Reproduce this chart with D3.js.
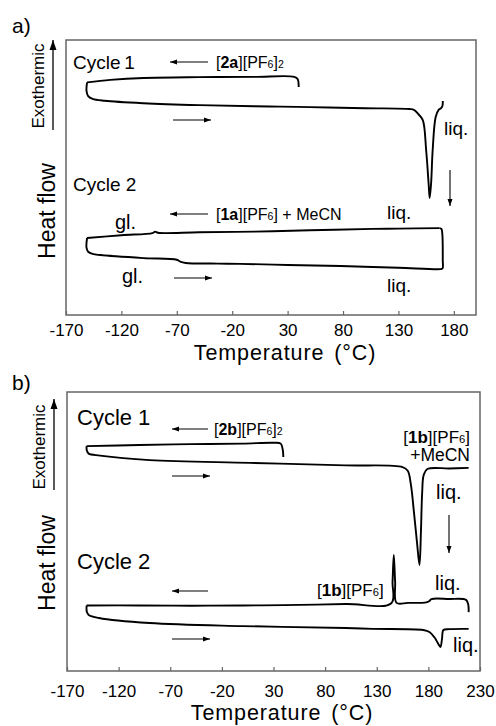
<!DOCTYPE html>
<html>
<head>
<meta charset="utf-8">
<script src="https://cdnjs.cloudflare.com/ajax/libs/d3/7.8.5/d3.min.js"></script>
<style>
    body { margin: 0; background: #fff; }
    svg { font-family: "Liberation Sans", Arial, sans-serif; }
</style>
</head>
<body>
<svg id="chart" width="496" height="726"></svg>
<script>
// temperature ticks (°C)
var ticksA = [-170, -120, -70, -20, 30, 80, 130, 180];
var ticksB = [-170, -120, -70, -20, 30, 80, 130, 180, 230];

// heat flow traces, [temperature °C, heat flow (arb. units, exo up)]
// panel a, cycle 1 ([2a][PF6]2)
var a1Cool = [[40, 82.9], [39, 85.8], [36, 86.6], [0, 86.6], [-50, 86.5], [-100, 86.2], [-130, 85.5], [-151, 84.6]];
var a1Heat = [[-151, 84.6], [-151.5, 81.5], [-150, 79.6], [-146, 78.6], [-135, 77.9], [-100, 77.0], [-50, 76.3], [0, 75.9],
    [50, 75.6], [100, 75.2], [140, 74.9], [144, 74.6], [148, 73.0], [152, 70.9], [155, 60], [157.2, 48], [158.2, 42.5],
    [159.5, 48], [160.9, 60], [163.6, 72], [166.3, 74.6], [168.5, 75.2], [169.8, 76.2], [170, 77.8]];
// panel a, cycle 2 ([1a][PF6] + MeCN)
var a2Cool = [[167, 31.6], [130, 31.4], [107, 31.3], [50, 30.8], [0, 30.3], [-50, 30.1], [-87, 29.9], [-89.5, 30.3],
    [-92, 29.8], [-120, 29.0], [-151, 28.0]];
var a2Heat = [[-151, 28.0], [-151.5, 24.5], [-150, 23.0], [-146, 22.2], [-139, 21.8], [-100, 20.7], [-70, 20.1],
    [-67, 19.4], [-62, 18.9], [-33, 18.7], [-13, 18.6], [30, 18.2], [78, 17.8], [130, 17.2], [168, 16.7],
    [169.8, 16.9], [170, 20], [169.6, 29.5], [168.8, 31.3], [167, 31.6]];
// panel b, cycle 1 ([2b][PF6]2)
var b1Cool = [[39.5, 76.7], [39, 79.2], [37, 81.5], [30, 81.8], [0, 81.5], [-50, 81.3], [-100, 81.0], [-151, 80.6]];
var b1Heat = [[-151, 80.6], [-150.8, 79.0], [-149, 77.9], [-138, 77.2], [-90, 75.6], [7, 74.6], [100, 73.7], [155, 73.1],
    [160, 71.8], [163, 67], [166, 57], [169, 46], [171.4, 38.0], [172.8, 50], [174, 64], [175.5, 70.3], [179, 72.4],
    [200, 72.6], [219, 72.8]];
// panel b, cycle 2 ([1b][PF6])
var b2Cool = [[219, 21.1], [218.6, 23.8], [216.5, 25.5], [200, 25.8], [183, 25.8], [181, 25.1], [178, 24.6], [160, 24.4],
    [149.2, 24.4], [147.8, 32], [146.5, 41.6], [145.3, 32], [144.1, 24.3], [100, 24.0], [40, 23.6], [0, 23.5],
    [-50, 23.4], [-100, 23.5], [-151, 23.5]];
var b2Heat = [[-151, 23.5], [-150.8, 21.2], [-149, 20.1], [-139, 19.0], [-90, 17.2], [0, 16.1], [100, 15.4], [126, 15.1],
    [175, 14.7], [181, 14.0], [186, 12.0], [189.5, 9.8], [191.7, 8.6], [193.2, 11.5], [194.6, 14.7], [200, 15.0], [219, 15.1]];

var svg = d3.select("#chart");

var defs = svg.append("defs");
defs.append("marker").attr("id", "head").attr("markerUnits", "userSpaceOnUse")
    .attr("markerWidth", 8).attr("markerHeight", 6).attr("refX", 7).attr("refY", 3).attr("orient", "auto")
    .append("path").attr("d", "M0,0.5 L7,3 L0,5.5 z").attr("fill", "#000");
defs.append("marker").attr("id", "bighead").attr("markerUnits", "userSpaceOnUse")
    .attr("markerWidth", 11).attr("markerHeight", 8).attr("refX", 10).attr("refY", 4).attr("orient", "auto")
    .append("path").attr("d", "M0,0.5 L10,4 L0,7.5 z").attr("fill", "#000");

function arrow(x1, y1, x2, y2, big) {
    svg.append("line")
        .attr("x1", x1).attr("y1", y1).attr("x2", x2).attr("y2", y2)
        .attr("stroke", "#000").attr("stroke-width", big ? 1.3 : 1.1)
        .attr("marker-end", big ? "url(#bighead)" : "url(#head)");
}

// parts: [text, "b" | "s" | ""]
function label(x, y, parts, size, anchor) {
    var t = svg.append("text").attr("x", x).attr("y", y)
        .attr("font-size", size).attr("text-anchor", anchor || "start")
        .attr("dominant-baseline", "central").attr("fill", "#000");
    var shifted = false;
    parts.forEach(function (p) {
        var s = t.append("tspan").text(p[0]);
        if (p[1] == "b") { s.attr("font-weight", "bold"); }
        if (p[1] == "s") {
            s.attr("font-size", size * 0.66).attr("dy", size * 0.14);
            shifted = true;
        } else if (shifted) {
            s.attr("dy", -size * 0.14);
            shifted = false;
        }
    });
    return t;
}

function sideLabel(x, y, txt, size) {
    svg.append("text")
        .attr("transform", "translate(" + x + "," + y + ") rotate(-90)")
        .attr("text-anchor", "middle").attr("font-size", size).attr("fill", "#000")
        .text(txt);
}

function drawPanel(p) {
    var x = d3.scaleLinear().domain(p.domain).range([p.left, p.right]);
    var y = d3.scaleLinear().domain([0, 100]).range([p.bottom, p.top]);

    var line = d3.line()
        .x(function (d) { return x(d[0]); })
        .y(function (d) { return y(d[1]); })
        .curve(d3.curveCatmullRom.alpha(0.5));

    p.traces.forEach(function (tr) {
        svg.append("path").datum(tr)
            .attr("fill", "none").attr("stroke", "#000")
            .attr("stroke-width", 1.9).attr("stroke-linejoin", "round")
            .attr("d", line);
    });

    var xAxis = d3.axisBottom(x).tickValues(p.ticks)
        .tickFormat(function (d) { return String(d); })
        .tickSizeInner(-4).tickSizeOuter(0).tickPadding(p.pad);
    var ax = svg.append("g")
        .attr("transform", "translate(0," + p.bottom + ")")
        .call(xAxis);
    ax.select(".domain").remove();
    ax.selectAll(".tick line").attr("stroke", "#666").attr("stroke-width", 1.2);
    ax.selectAll("text").attr("font-size", 17).attr("fill", "#000")
        .attr("font-family", "Liberation Sans, Arial, sans-serif");

    svg.append("rect")
        .attr("x", p.left).attr("y", p.top)
        .attr("width", p.right - p.left).attr("height", p.bottom - p.top)
        .attr("fill", "none").attr("stroke", "#666").attr("stroke-width", 1.5);

    svg.append("text")
        .attr("x", p.titleX).attr("y", p.titleY)
        .attr("text-anchor", "middle").attr("dominant-baseline", "central")
        .attr("font-size", 21.5).attr("letter-spacing", 0.9).attr("word-spacing", 3)
        .text("Temperature (°C)");
}

drawPanel({
    domain: [-170, 200], left: 66, right: 476, top: 40, bottom: 315, ticks: ticksA, pad: 9,
    titleX: 285, titleY: 353, traces: [a1Cool, a1Heat, a2Cool, a2Heat]
});
drawPanel({
    domain: [-170, 230], left: 67, right: 480, top: 392, bottom: 671, ticks: ticksB, pad: 14,
    titleX: 282, titleY: 713, traces: [b1Cool, b1Heat, b2Cool, b2Heat]
});

// panel a annotations
label(12, 25, [["a)", ""]], 21);
label(73, 62, [["Cycle", ""], ["\u20091", ""]], 19);
arrow(208, 62, 170, 62);
label(216, 62, [["[", ""], ["2a", "b"], ["][PF", ""], ["6", "s"], ["]", ""], ["2", "s"]], 16);
arrow(173, 120, 211, 120);
label(444, 128, [["liq.", ""]], 19);
arrow(450, 170, 450, 206);
label(73, 184, [["Cycle 2", ""]], 19);
label(115, 222, [["gl.", ""]], 20);
arrow(208, 214, 170, 214);
label(216, 214, [["[", ""], ["1a", "b"], ["][PF", ""], ["6", "s"], ["] + MeCN", ""]], 16);
label(387, 212, [["liq.", ""]], 19);
label(122, 276, [["gl.", ""]], 20);
arrow(174, 278, 212, 278);
label(387, 285, [["liq.", ""]], 19);
sideLabel(44, 86, "Exothermic", 17);
arrow(53, 130, 53, 40, true);
sideLabel(55, 211, "Heat flow", 23);

// panel b annotations
label(12, 382, [["b)", ""]], 21);
label(77, 417, [["Cycle 1", ""]], 22);
arrow(208, 429, 172, 429);
label(214, 429, [["[", ""], ["2b", "b"], ["][PF", ""], ["6", "s"], ["]", ""], ["2", "s"]], 16);
label(470, 437, [["[", ""], ["1b", "b"], ["][PF", ""], ["6", "s"], ["]", ""]], 17, "end");
label(470, 455, [["+MeCN", ""]], 17.5, "end");
arrow(172, 476, 210, 476);
label(436, 492, [["liq.", ""]], 20);
arrow(449, 515, 449, 553);
label(77, 561, [["Cycle 2", ""]], 22);
arrow(208, 591, 172, 591);
label(317, 590, [["[", ""], ["1b", "b"], ["][PF", ""], ["6", "s"], ["]", ""]], 17);
label(435, 583, [["liq.", ""]], 20);
arrow(172, 639, 210, 639);
label(453, 645, [["liq.", ""]], 20);
sideLabel(45, 447, "Exothermic", 17);
arrow(54, 490, 54, 399, true);
sideLabel(55, 563, "Heat flow", 23);
</script>
</body>
</html>
